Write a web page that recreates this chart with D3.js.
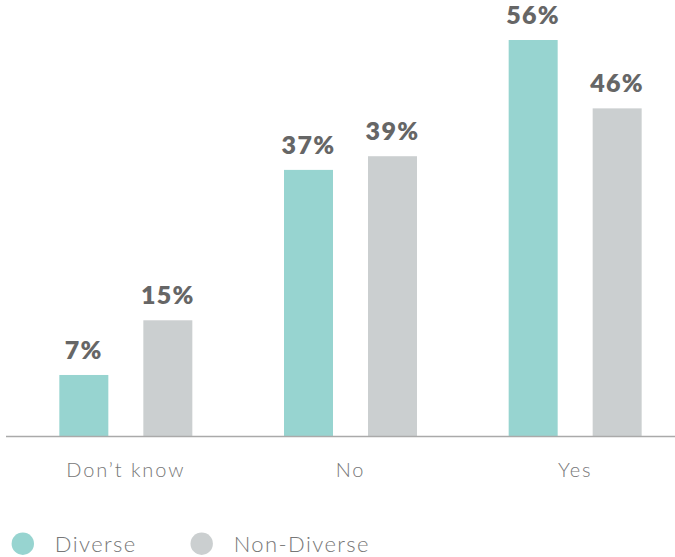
<!DOCTYPE html>
<html>
<head>
<meta charset="utf-8">
<script src="https://cdn.jsdelivr.net/npm/d3@7"></script>
<style>
  html, body { margin: 0; padding: 0; background: #fff; }
  svg { display: block; }
</style>
</head>
<body>
<svg id="chart" width="675" height="557"></svg>
<script>
const categories = ["Don’t know", "No", "Yes"];
const seriesNames = ["Diverse", "Non-Diverse"];
const diverseValues = [7, 37, 56];
const nonDiverseValues = [15, 39, 46];
const colors = ["#97d4d0", "#cbcfd0"];

const W = 675, H = 557;
const baseY = 436.5;
const svg = d3.select("#chart");

const x0 = d3.scaleBand().domain(categories).range([13.5, 687.5]).padding(0);
const x1 = d3.scaleBand().domain(seriesNames).range([0, 133]).paddingInner(35 / 84).paddingOuter(0);
const y = d3.scaleLinear().domain([-2, 60]).range([baseY, baseY - 6.836 * 62]);

const rows = categories.map((c, i) => ({
  cat: c,
  vals: [
    { s: seriesNames[0], v: diverseValues[i] },
    { s: seriesNames[1], v: nonDiverseValues[i] }
  ]
}));

const g = svg.append("g");
const groups = g.selectAll("g.grp").data(rows).join("g")
  .attr("class", "grp")
  .attr("transform", d => `translate(${x0(d.cat) + x0.bandwidth() / 2 - 66.5},0)`);

groups.selectAll("rect").data(d => d.vals).join("rect")
  .attr("x", d => x1(d.s))
  .attr("y", d => y(d.v))
  .attr("width", x1.bandwidth())
  .attr("height", d => y(-2) - y(d.v))
  .attr("fill", (d, i) => colors[i]);

groups.selectAll("text.val").data(d => d.vals).join("text")
  .attr("class", "val")
  .attr("x", d => x1(d.s) + x1.bandwidth() / 2)
  .attr("y", d => y(d.v) - 16)
  .attr("text-anchor", "middle")
  .attr("font-family", "Lato, 'Liberation Sans', sans-serif")
  .attr("font-weight", 800)
  .attr("font-size", 25)
  .attr("letter-spacing", 1.3)
  .attr("fill", "#666666")
  .text(d => d.v + "%");

// axis baseline
g.append("line")
  .attr("x1", 6).attr("x2", 675)
  .attr("y1", baseY).attr("y2", baseY)
  .attr("stroke", "#aaaaaa").attr("stroke-width", 1.5);

// category axis via d3 axis
const axis = d3.axisBottom(x0).tickSize(0).tickPadding(0);
const ax = svg.append("g").attr("transform", `translate(0,${baseY})`).call(axis);
ax.select(".domain").remove();
ax.selectAll("text")
  .attr("dy", null)
  .attr("y", 40)
  .attr("font-family", "Lato, 'Open Sans', sans-serif")
  .attr("font-weight", 300)
  .attr("font-size", 20)
  .attr("letter-spacing", 1.9)
  .attr("fill", "#777777");

// legend
const legendX = [22.8, 201.7];
const leg = svg.append("g").selectAll("g").data(seriesNames).join("g")
  .attr("transform", (d, i) => `translate(${legendX[i]},543.7)`);
leg.append("circle").attr("r", 11.2).attr("fill", (d, i) => colors[i]);
leg.append("text")
  .attr("x", 32)
  .attr("y", 8.5)
  .attr("font-family", "Lato, 'Open Sans', sans-serif")
  .attr("font-weight", 300)
  .attr("font-size", 22)
  .attr("letter-spacing", 1.4)
  .attr("fill", "#777777")
  .text(d => d);
</script>
</body>
</html>
